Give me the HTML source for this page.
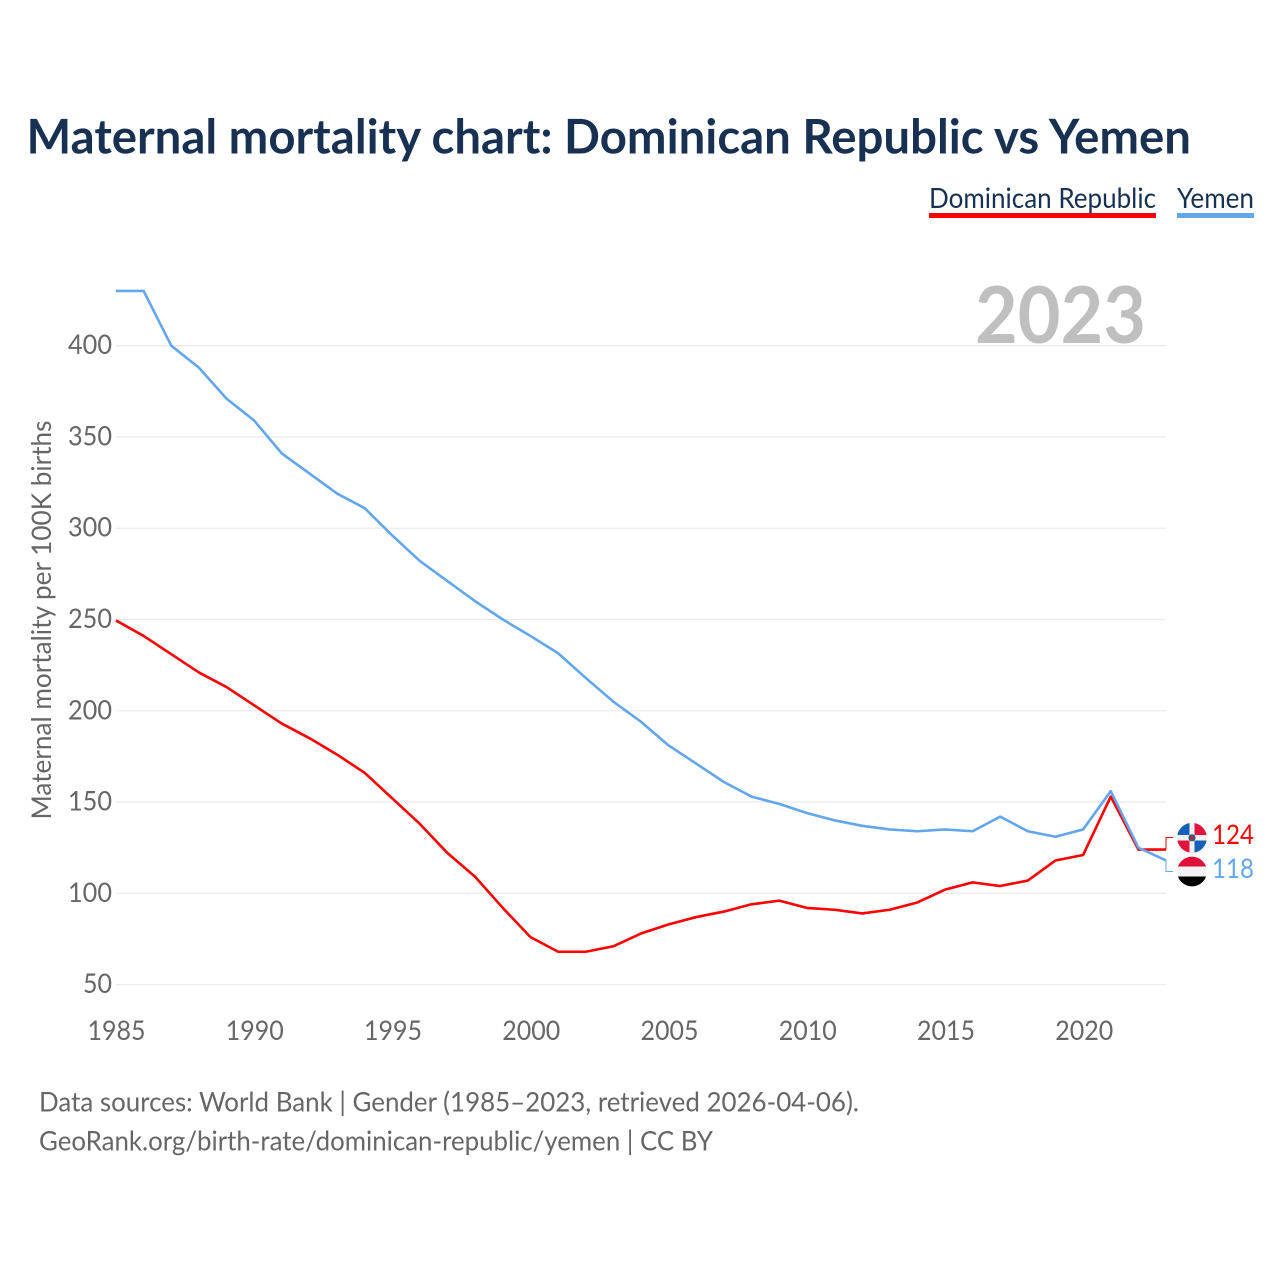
<!DOCTYPE html>
<html lang="en">
<head>
<meta charset="utf-8">
<title>Maternal mortality chart: Dominican Republic vs Yemen</title>
<style>
html,body{margin:0;padding:0;background:#fff;width:1280px;height:1280px;overflow:hidden}
svg{display:block}
text{font-family:Lato,Carlito,"Liberation Sans",sans-serif}
</style>
</head>
<body>
<svg id="chart" width="1280" height="1280" viewBox="0 0 1280 1280" xmlns="http://www.w3.org/2000/svg">
  <defs>
    <clipPath id="flag-clip-do"><circle cx="1192" cy="837.8" r="14.9"/></clipPath>
    <clipPath id="flag-clip-ye"><circle cx="1192" cy="871.5" r="14.9"/></clipPath>
  </defs>
  <text x="26.5" y="153.5" font-size="47.5" font-weight="700" fill="#183153" textLength="1164.5" lengthAdjust="spacingAndGlyphs">Maternal mortality chart: Dominican Republic vs Yemen</text>

  <g>
    <g>
      <text x="929" y="208" font-size="28.5" fill="#183153" textLength="227" lengthAdjust="spacingAndGlyphs">Dominican Republic</text>
      <rect x="929" y="213" width="227" height="5" fill="#ff0000"/>
    </g>
    <g>
      <text x="1177" y="208" font-size="28.5" fill="#183153" textLength="77" lengthAdjust="spacingAndGlyphs">Yemen</text>
      <rect x="1177" y="213" width="77" height="5" fill="#62a6ee"/>
    </g>
  </g>

  <g id="grid"></g>
  <text x="975" y="343" font-size="78.5" font-weight="700" fill="#bfbfbf" textLength="171" lengthAdjust="spacingAndGlyphs">2023</text>
  <g id="y-ticks"></g>
  <g id="x-ticks"></g>
  <text transform="translate(51 620) rotate(-90)" font-size="27.5" fill="#666666" text-anchor="middle" textLength="399" lengthAdjust="spacingAndGlyphs">Maternal mortality per 100K births</text>
  <g id="series"></g>

  <g clip-path="url(#flag-clip-do)">
    <rect x="1177" y="822" width="30" height="31" fill="#f2f2f2"/>
    <rect x="1177" y="822" width="12.5" height="13" fill="#1560b8"/>
    <rect x="1194.5" y="822" width="12.5" height="13" fill="#e0143c"/>
    <rect x="1177" y="840.5" width="12.5" height="13" fill="#e0143c"/>
    <rect x="1194.5" y="840.5" width="12.5" height="13" fill="#1560b8"/>
    <circle cx="1192" cy="837.8" r="3.6" fill="#2a5a78"/>
    <circle cx="1192" cy="837.8" r="1.8" fill="#c8283c"/>
  </g>
  <g clip-path="url(#flag-clip-ye)">
    <rect x="1177" y="856" width="30" height="11" fill="#e0103a"/>
    <rect x="1177" y="866.5" width="30" height="10" fill="#f2f2f2"/>
    <rect x="1177" y="876.5" width="30" height="11" fill="#000000"/>
  </g>
  <text x="1212" y="844" font-size="27.5" fill="#ff0000" textLength="42" lengthAdjust="spacingAndGlyphs">124</text>
  <text x="1212" y="878" font-size="27.5" fill="#62a6ee" textLength="42" lengthAdjust="spacingAndGlyphs">118</text>

  <text x="39" y="1111.5" font-size="27.5" fill="#666666" textLength="820" lengthAdjust="spacingAndGlyphs">Data sources: World Bank | Gender (1985–2023, retrieved 2026-04-06).</text>
  <text x="39" y="1150.5" font-size="27.5" fill="#666666" textLength="674" lengthAdjust="spacingAndGlyphs">GeoRank.org/birth-rate/dominican-republic/yemen | CC BY</text>
</svg>
<script>
const startYear = 1985;
const endYear = 2023;
const dominicanValues = [249.5,241,231,221,213,203,193,185,176,166,152,138,122,109,92,76,68,68,71,78,83,87,90,94,96,92,91,89,91,95,102,106,104,107,118,121,153,124,124];
const yemenValues = [430,430,400,388,371,359,341,330,319,311,296,282,271,260,250,241,231.5,218,205,194,181,171,161,153,149,144,140,137,135,134,135,134,142,134,131,135,156,125,118];
const yTickValues = [50,100,150,200,250,300,350,400];
const xTickYears = [1985,1990,1995,2000,2005,2010,2015,2020];

const SVG_NS = 'http://www.w3.org/2000/svg';
const xScale = function (year) { return 116 + (year - startYear) * (1166 - 116) / (endYear - startYear); };
const xTickScale = function (year) { return 116.5 + (year - startYear) * 27.65; };
const yScale = function (value) { return 984.6 - (value - 50) * (984.6 - 345.7) / 350; };

function make(tag, attrs, parent) {
  const el = document.createElementNS(SVG_NS, tag);
  Object.keys(attrs).forEach(function (k) { el.setAttribute(k, attrs[k]); });
  parent.appendChild(el);
  return el;
}

const grid = document.getElementById('grid');
const yTicks = document.getElementById('y-ticks');
yTickValues.forEach(function (v) {
  const line = make('line', {x1: 116, x2: 1166, y1: yScale(v), y2: yScale(v), stroke: '#ebebeb', 'stroke-width': 1.3}, grid);
  
  
  const label = make('text', {x: 112, y: yScale(v) + 8.5, 'font-size': 27.5, fill: '#666666', 'text-anchor': 'end', textLength: 44, lengthAdjust: 'spacingAndGlyphs'}, yTicks);
  if (v < 100) { label.setAttribute('textLength', 29); }
  label.textContent = v;
  
  
});

const xTicks = document.getElementById('x-ticks');
xTickYears.forEach(function (y) {
  const label = make('text', {x: xTickScale(y), y: 1040, 'font-size': 27.5, fill: '#666666', 'text-anchor': 'middle', textLength: 58, lengthAdjust: 'spacingAndGlyphs'}, xTicks);
  label.textContent = y;
  
  
});

const series = document.getElementById('series');
function drawSeries(values, color, name, labelY) {
  const pts = values.map(function (v, i) { return xScale(startYear + i).toFixed(2) + ',' + yScale(v).toFixed(2); }).join(' ');
  const line = make('polyline', {points: pts, fill: 'none', stroke: color, 'stroke-width': 2.6, 'stroke-linejoin': 'round'}, series);
  
  
  const endX = xScale(endYear);
  const endY = yScale(values[values.length - 1]);
  const conn = make('polyline', {points: endX + ',' + endY + ' ' + endX + ',' + labelY + ' 1173,' + labelY, fill: 'none', stroke: color, 'stroke-width': 1}, series);
  
  
}
drawSeries(dominicanValues, '#ff0000', 'dominican-republic', 837.5);
drawSeries(yemenValues, '#62a6ee', 'yemen', 871.5);
</script>
</body>
</html>
